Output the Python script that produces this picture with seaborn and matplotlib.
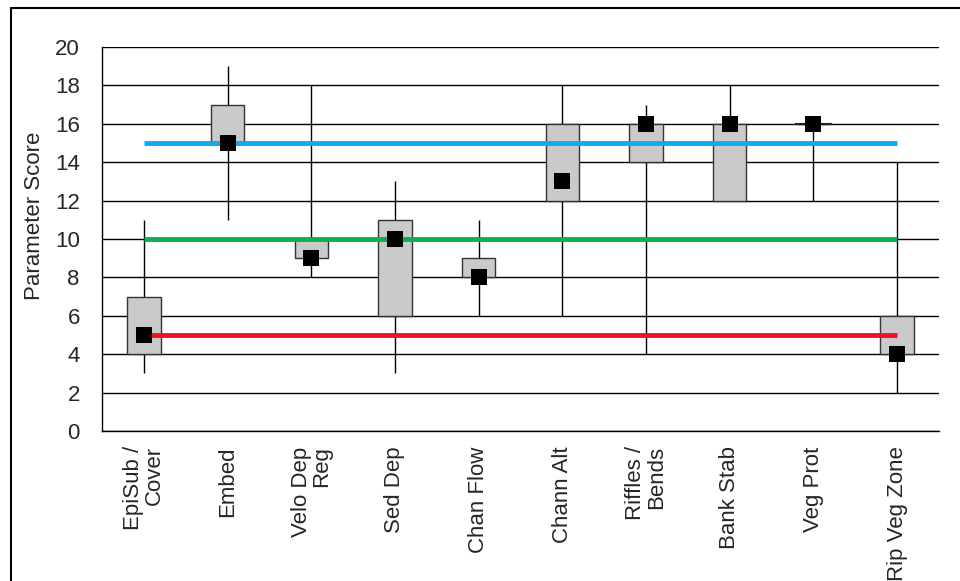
import matplotlib
matplotlib.use("Agg")
import matplotlib.pyplot as plt
from matplotlib.lines import Line2D
import seaborn as sns
import pandas as pd
import numpy as np

categories = ["EpiSub /\nCover", "Embed", "Velo Dep\nReg", "Sed Dep", "Chan Flow",
              "Chann Alt", "Riffles /\nBends", "Bank Stab", "Veg Prot", "Rip Veg Zone"]
whisker_low = [3, 11, 8, 3, 6, 6, 4, 12, 12, 2]
whisker_high = [11, 19, 18, 13, 11, 18, 17, 18, 16, 14]
box_low = [4, 15, 9, 6, 8, 12, 14, 12, 16, 4]
box_high = [7, 17, 10, 11, 9, 16, 16, 16, 16, 6]
score = [5, 15, 9, 10, 8, 13, 16, 16, 16, 4]
ref_levels = [15, 10, 5]
ref_colors = ["#12aaee", "#10ad4c", "#f0102a"]
y_ticks = list(range(0, 21, 2))

sns.set_style("white")
plt.rcParams['font.family'] = ['Liberation Sans', 'DejaVu Sans']

fig = plt.figure(figsize=(9.6, 5.81), dpi=100)
ax = fig.add_axes([102/960, 1 - 431/581, 837/960, 384/581])

x = np.arange(len(categories))
df = pd.DataFrame({"x": x, "score": score})

# whiskers
ax.vlines(x, whisker_low, whisker_high, color="black", lw=1, zorder=2)
# boxes
heights = np.array(box_high) - np.array(box_low)
ax.bar(x, heights, bottom=box_low, width=0.4, color="#cacaca",
       edgecolor="#333333", linewidth=1, zorder=3)
flat = heights == 0
ax.hlines(np.array(box_low)[flat], x[flat] - 0.22, x[flat] + 0.22,
          color="#222222", lw=1.5, zorder=3)
# reference lines
for lvl, c in zip(ref_levels, ref_colors):
    ax.plot([x[0], x[-1]], [lvl, lvl], color=c, lw=3.5, zorder=4, solid_capstyle="butt")
# markers
sns.scatterplot(data=df, x="x", y="score", marker="s", s=125, color="black",
                edgecolor="black", linewidth=0, ax=ax, zorder=5, legend=False)

ax.set_xlim(-0.5, len(categories) - 0.5)
ax.set_ylim(0, 20)
ax.set_yticks(y_ticks)
ax.set_yticklabels([str(t) for t in y_ticks], fontsize=16)
ax.yaxis.grid(True, color="black", lw=1)
ax.set_axisbelow(True)

ax.set_xticks(np.arange(-0.5, len(categories), 1.0))
ax.set_xticklabels([])
ax.set_xticks(x, minor=True)
ax.set_xticklabels(categories, minor=True, rotation=90, fontsize=16,
                   va="top", ha="center", multialignment="right", linespacing=0.95)
ax.tick_params(axis="x", which="minor", length=0, pad=11)
ax.tick_params(axis="x", which="major", length=7, width=1, color="black", direction="out")
ax.tick_params(axis="y", length=7, width=1, color="black", direction="out", pad=9)

for s in ["top", "right"]:
    ax.spines[s].set_visible(False)
for s in ["left", "bottom"]:
    ax.spines[s].set_color("black")
    ax.spines[s].set_linewidth(1)

ax.set_xlabel("")
ax.set_ylabel("Parameter Score", fontsize=16)
ax.yaxis.set_label_coords((45 - 102) / 837, (431 - 216) / 384)

# figure frame (top and left edges)
fig.add_artist(Line2D([11/960, 11/960], [0, 1 - 8/581], color="black", lw=1.5,
                      transform=fig.transFigure))
fig.add_artist(Line2D([11/960, 1], [1 - 8/581, 1 - 8/581], color="black", lw=1.5,
                      transform=fig.transFigure))

fig.savefig("out.png", dpi=100, facecolor="white")
